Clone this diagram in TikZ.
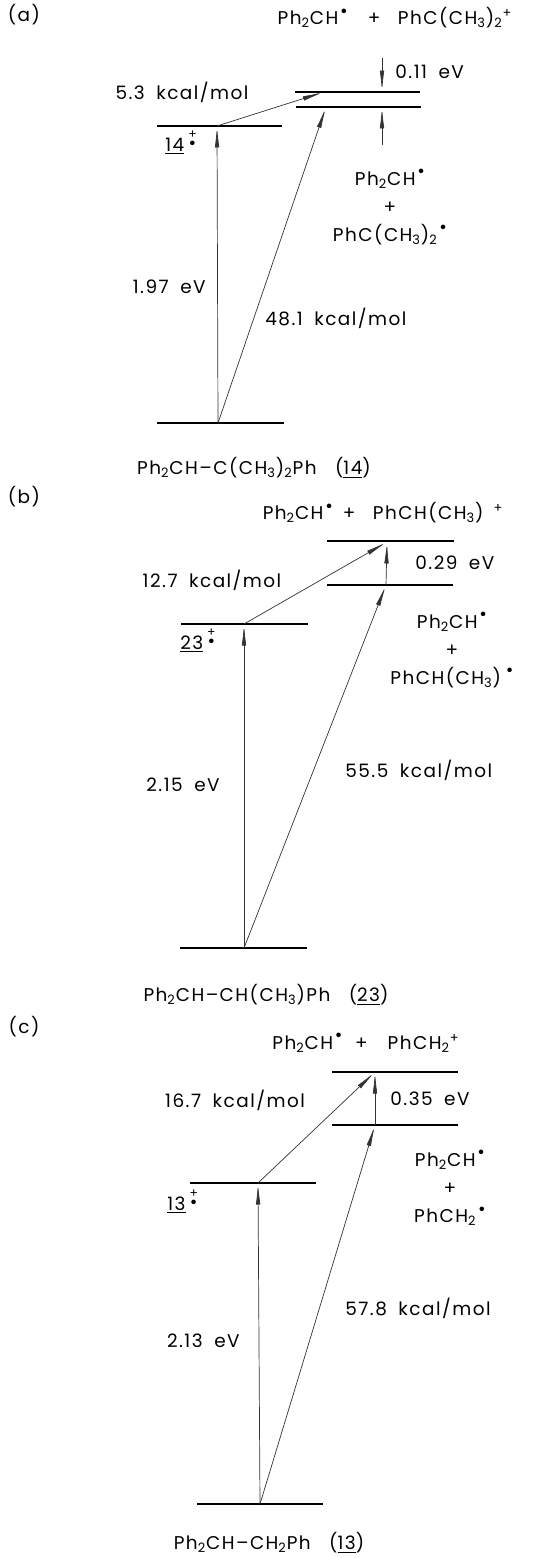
\documentclass[tikz,border=0pt]{standalone}
\usepackage{fontspec}
\setmainfont{Poppins}[LetterSpace=8, WordSpace=1.8]
\usetikzlibrary{arrows.meta,positioning,calc}
\newcommand{\radcat}[1]{\underline{#1}\kern2pt\raisebox{0.15ex}{\makebox[0.5em][c]{\textbullet}}\kern-0.5em\raisebox{1.2ex}{\makebox[0.5em][c]{\scriptsize+}}}
\newcommand{\rdot}{\kern1pt\raisebox{0.75ex}{\textbullet}}
\newcommand{\sub}[1]{\textsubscript{#1}}

\begin{document}
\begin{tikzpicture}[x=0.02cm, y=-0.02cm, >={Latex[length=4.3mm,width=0.9mm]}, font=\fontsize{10.5}{16}\selectfont]
  \tikzstyle{level}=[line width=0.7pt]
  \tikzstyle{conn}=[->, line width=0.4pt, black!80]
  \tikzstyle{lbl}=[inner sep=0pt, align=center]
  \useasboundingbox (0,0) rectangle (534,1558);

  % (a) Ph2CH-C(CH3)2Ph
  \coordinate (ag) at (218,423);
  \coordinate (ai) at (217,126);
  \coordinate (ar) at (326,107);
  \coordinate (ac) at (324,92);
  \coordinate (at) at (382,58);
  \coordinate (ab) at (382,145);
  \coordinate (acm) at (382,92);
  \coordinate (arm) at (382,107);
  \draw[level] (157,423) -- (284,423);
  \draw[level] (157,126) -- (282,126);
  \draw[level] (295,92) -- (420,92);
  \draw[level] (296,107) -- (421,107);
  \draw[conn] (ag) -- (ai);
  \draw[conn] (ai) -- (ac);
  \draw[conn] (ag) -- (ar);
  \draw[conn] (at) -- (acm);
  \draw[conn] (ab) -- (arm);
  \node[lbl] (la) at (24,15) {(a)};
  \node[lbl] (aprod) at (395,18) {Ph\sub{2}CH\rdot\hspace{0.4cm}+\hspace{0.35cm}PhC(CH\sub{3})\sub{2}\textsuperscript{+}};
  \node[lbl] (ak1) at (182,92) {5.3 kcal/mol};
  \node[lbl, anchor=west] (aev1) at (395,72) {0.11 eV};
  \node[lbl, anchor=west] (aion) at (165,143) {\radcat{14}};
  \node[lbl] (arad) at (390,207) {Ph\sub{2}CH\rdot\\+\\PhC(CH\sub{3})\sub{2}\rdot};
  \node[lbl, anchor=east] (aev2) at (206,287) {1.97 eV};
  \node[lbl, anchor=west] (ak2) at (265,318) {48.1 kcal/mol};
  \node[lbl] (aname) at (254,468) {Ph\sub{2}CH--C(CH\sub{3})\sub{2}Ph\quad(\underline{14})};

  % (b) Ph2CH-CH(CH3)Ph
  \coordinate (bg) at (244,948);
  \coordinate (bi) at (244,624);
  \coordinate (br) at (386,585);
  \coordinate (bc) at (387,542);
  \draw[level] (180,948) -- (307,948);
  \draw[level] (181,624) -- (308,624);
  \draw[level] (327,541) -- (454,541);
  \draw[level] (327,585) -- (453,585);
  \draw[conn] (bg) -- (bi);
  \draw[conn] (bi) -- (bc);
  \draw[conn] (bg) -- (br);
  \draw[conn] (br) -- (bc);
  \node[lbl] (lb) at (24,497) {(b)};
  \node[lbl] (bprod) at (383,513) {Ph\sub{2}CH\rdot\hspace{0.2cm}+\hspace{0.35cm}PhCH(CH\sub{3})\hspace{0.2cm}\textsuperscript{+}};
  \node[lbl] (bk1) at (212,580) {12.7 kcal/mol};
  \node[lbl, anchor=west] (bev1) at (415,563) {0.29 eV};
  \node[lbl, anchor=west] (bion) at (180,641) {\radcat{23}};
  \node[lbl] (brad) at (452,650) {Ph\sub{2}CH\rdot\\+\\PhCH(CH\sub{3})\,\rdot};
  \node[lbl, anchor=east] (bev2) at (220,785) {2.15 eV};
  \node[lbl, anchor=west] (bk2) at (345,770) {55.5 kcal/mol};
  \node[lbl] (bname) at (266,995) {Ph\sub{2}CH--CH(CH\sub{3})Ph\quad(\underline{23})};

  % (c) Ph2CH-CH2Ph
  \coordinate (cg) at (260,1504);
  \coordinate (ci) at (258,1183);
  \coordinate (cr) at (375,1125);
  \coordinate (cc) at (375,1072);
  \draw[level] (197,1504) -- (323,1504);
  \draw[level] (190,1183) -- (316,1183);
  \draw[level] (332,1072) -- (458,1072);
  \draw[level] (332,1125) -- (458,1125);
  \draw[conn] (cg) -- (ci);
  \draw[conn] (ci) -- (cc);
  \draw[conn] (cg) -- (cr);
  \draw[conn] (cr) -- (cc);
  \node[lbl] (lc) at (24,1027) {(c)};
  \node[lbl] (cprod) at (366,1043) {Ph\sub{2}CH\rdot\hspace{0.25cm}+\hspace{0.4cm}PhCH\sub{2}\textsuperscript{+}};
  \node[lbl] (ck1) at (235,1100) {16.7 kcal/mol};
  \node[lbl, anchor=west] (cev1) at (390,1099) {0.35 eV};
  \node[lbl, anchor=west] (cion) at (167,1202) {\radcat{13}};
  \node[lbl] (crad) at (450,1188) {Ph\sub{2}CH\rdot\\+\\PhCH\sub{2}\rdot};
  \node[lbl, anchor=east] (cev2) at (240,1341) {2.13 eV};
  \node[lbl, anchor=west] (ck2) at (345,1308) {57.8 kcal/mol};
  \node[lbl] (cname) at (269,1543) {Ph\sub{2}CH--CH\sub{2}Ph\quad(\underline{13})};
\end{tikzpicture}
\end{document}
